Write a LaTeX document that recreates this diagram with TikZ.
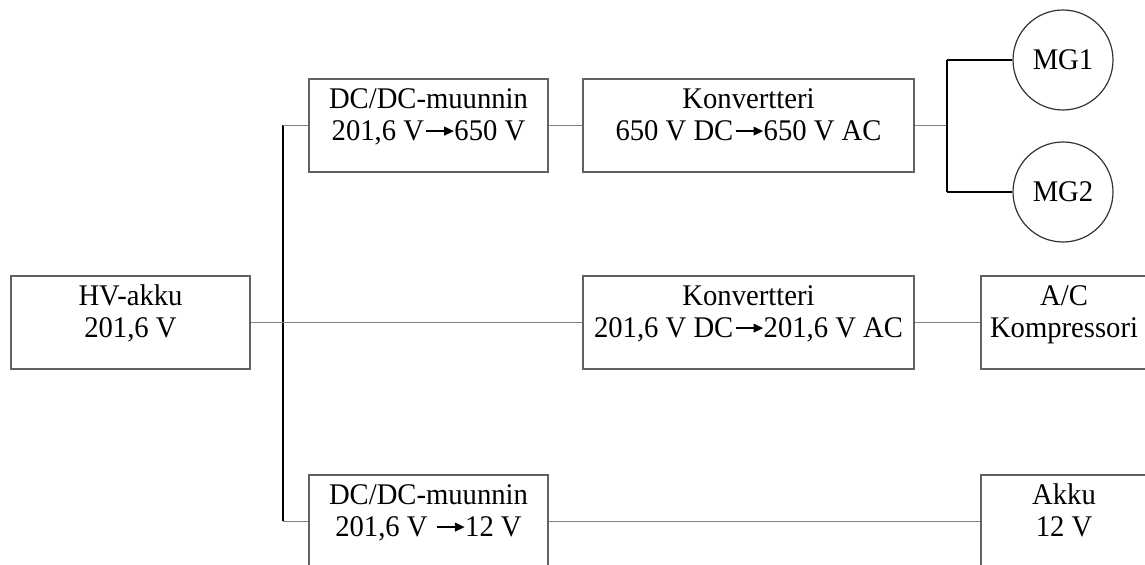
\documentclass[tikz,border=0pt]{standalone}
\usepackage{fontspec}
\setmainfont[FakeStretch=0.955]{Liberation Serif}
\usetikzlibrary{arrows.meta}

% inline conversion arrow with a filled head
\newcommand{\convarrow}{\kern0.8pt\tikz[baseline=0pt]\draw[black,line width=0.6pt,-{Triangle[length=4.8pt,width=4.4pt]}] (0,0.33em) -- (0.92em,0.33em);}
% two centred lines, the reference point on the first baseline
\newcommand{\twolines}[2]{\begin{tabular}[t]{@{}c@{}}#1\\#2\end{tabular}}

\begin{document}
\begin{tikzpicture}[x=0.5pt,y=-0.5pt,
  unit/.style={draw=black!62,line width=0.6pt,rectangle,inner sep=0pt,
    text height=15pt,text depth=31.5pt,font=\fontsize{15}{16}\selectfont},
  machine/.style={draw=black!80,line width=0.6pt,circle,inner sep=0pt,
    minimum size=50pt,font=\fontsize{15}{16}\selectfont},
  wire/.style={draw=black!50,line width=0.6pt},
  bus/.style={draw=black,line width=0.65pt}]
\useasboundingbox (0,0) rectangle (1145,565);
\clip (0,0) rectangle (1145,565);

% source battery
\node[unit,minimum width=119.5pt] (hv) at (130.5,322.5) {\twolines{HV-akku}{201,6 V}};

% upper branch: boost converter, inverter, motor-generators
\node[unit,minimum width=119.5pt] (dcA) at (428.5,125.5) {\twolines{DC/DC-muunnin}{201,6 V\convarrow 650 V}};
\node[unit,minimum width=165.5pt] (invA) at (748.5,125.5) {\twolines{Konvertteri}{650 V DC\convarrow 650 V AC}};
\node[machine] (mg1) at (1063,60) {MG1};
\node[machine] (mg2) at (1063,192) {MG2};

% middle branch: inverter and A/C compressor
\node[unit,minimum width=165.5pt] (invB) at (748.5,322.5) {\twolines{Konvertteri}{201,6 V DC\convarrow 201,6 V AC}};
\node[unit,minimum width=83pt] (ac) at (1064,322.5) {\twolines{A/C}{Kompressori}};

% lower branch: step-down converter and 12 V battery
\node[unit,minimum width=119.5pt] (dcB) at (428.5,521.5) {\twolines{DC/DC-muunnin}{201,6 V \convarrow 12 V}};
\node[unit,minimum width=83pt] (lv) at (1064,521.5) {\twolines{Akku}{12 V}};

% junction points
\coordinate (busT) at (283,125.5);
\coordinate (busB) at (283,521.5);
\coordinate (split) at (947,125.5);
\coordinate (splitT) at (947,60);
\coordinate (splitB) at (947,192);

% high-voltage bus
\draw[bus] (busT) -- (busB);
\draw[wire] (hv.east) -- (invB.west);
\draw[wire] (busT) -- (dcA.west);
\draw[wire] (busB) -- (dcB.west);

% branch links
\draw[wire] (dcA.east) -- (invA.west);
\draw[wire] (invA.east) -- (split);
\draw[bus] (splitT) -- (splitB);
\draw[bus] (splitT) -- (mg1.west);
\draw[bus] (splitB) -- (mg2.west);
\draw[wire] (invB.east) -- (ac.west);
\draw[wire] (dcB.east) -- (lv.west);
\end{tikzpicture}
\end{document}
